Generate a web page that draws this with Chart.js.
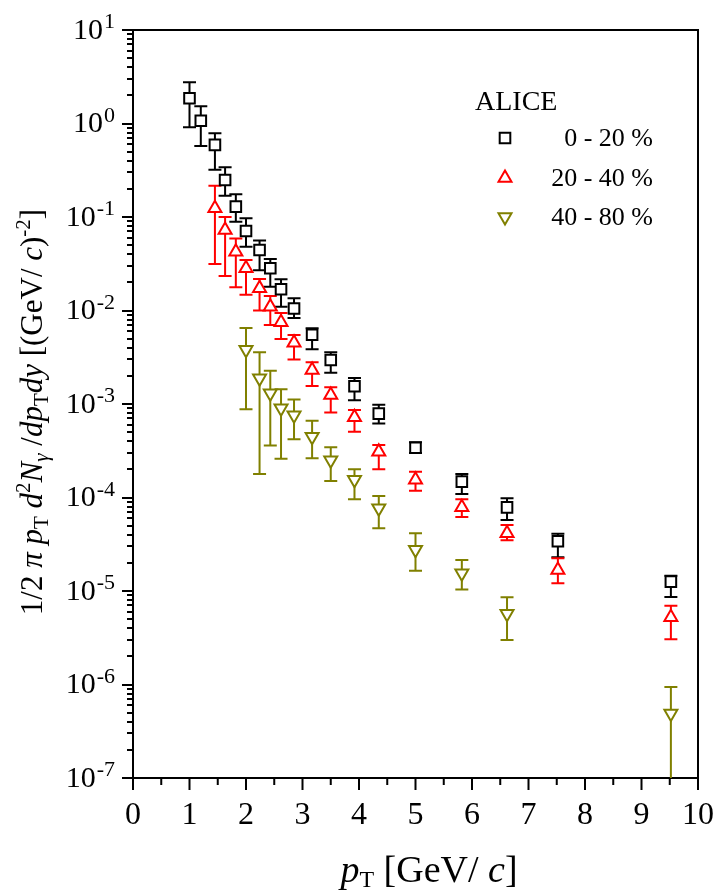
<!DOCTYPE html>
<html>
<head>
<meta charset="utf-8">
<script src="https://cdn.jsdelivr.net/npm/chart.js@4.4.1/dist/chart.umd.min.js"></script>
<style>
html,body{margin:0;padding:0;background:#fff;}
#wrap{width:713px;height:896px;position:relative;}
</style>
</head>
<body>
<div id="wrap"><canvas id="c" width="713" height="896"></canvas></div>
<script>
// ---- data ----
const seriesNames = ['0 - 20 %', '20 - 40 %', '40 - 80 %'];
const legendTitle = 'ALICE';

const pt0to20 = [1.0, 1.2, 1.45, 1.63, 1.82, 2.0, 2.24, 2.43, 2.62, 2.85, 3.17, 3.5, 3.92, 4.35, 5.0, 5.82, 6.62, 7.52, 9.52];
const yield0to20 = [1.86, 1.07, 0.59, 0.249, 0.129, 0.0708, 0.0444, 0.0283, 0.0169, 0.0105, 0.0055, 0.00295, 0.00155, 0.00079, 0.00034, 0.000148, 7.85e-5, 3.4e-5, 1.26e-5];
const errHigh0to20 = [2.76, 1.53, 0.785, 0.34, 0.175, 0.097, 0.056, 0.0355, 0.0216, 0.0135, 0.00646, 0.00357, 0.0019, 0.00098, 0.00039, 1.78e-4, 9.8e-5, 4.1e-5, 1.46e-5];
const errLow0to20 = [0.91, 0.575, 0.32, 0.169, 0.089, 0.048, 0.027, 0.018, 0.011, 0.0083, 0.00385, 0.00216, 0.0011, 0.00062, 0.0003, 1.09e-4, 5.75e-5, 2.29e-5, 8.6e-6];

const pt20to40 = [1.45, 1.63, 1.82, 2.0, 2.24, 2.43, 2.62, 2.85, 3.17, 3.5, 3.92, 4.35, 5.0, 5.82, 6.62, 7.52, 9.52];
const yield20to40 = [0.124, 0.0726, 0.0426, 0.0283, 0.0173, 0.011, 0.0075, 0.00453, 0.00231, 0.00125, 0.00072, 0.000309, 0.000155, 7.85e-5, 4.14e-5, 1.68e-5, 5.25e-6];
const errHigh20to40 = [0.216, 0.1, 0.059, 0.0347, 0.0217, 0.0143, 0.0094, 0.00547, 0.00279, 0.00151, 0.00086, 0.000364, 0.000189, 9.55e-5, 5.08e-5, 2.24e-5, 6.97e-6];
const errLow20to40 = [0.0314, 0.0234, 0.0177, 0.0147, 0.01, 0.007, 0.00495, 0.003, 0.00156, 0.00081, 0.000506, 0.0002, 0.000118, 6.17e-5, 3.5e-5, 1.21e-5, 3.04e-6];

const pt40to80 = [2.0, 2.24, 2.43, 2.62, 2.85, 3.17, 3.5, 3.92, 4.35, 5.0, 5.82, 6.62, 9.52];
const yield40to80 = [0.0038, 0.00188, 0.0013, 0.0009, 0.00076, 0.000447, 0.00025, 0.000155, 7.66e-5, 2.76e-5, 1.55e-5, 5.7e-6, 4.9e-7];
const errHigh40to80 = [0.0065, 0.00357, 0.00227, 0.00144, 0.00112, 0.000662, 0.000344, 0.0002, 0.000104, 4.14e-5, 2.15e-5, 8.57e-6, 9.4e-7];
const errLow40to80 = [0.00088, 1.78e-4, 3.6e-4, 2.6e-4, 4.2e-4, 2.63e-4, 0.00015, 9.55e-5, 4.69e-5, 1.65e-5, 1.04e-5, 2.99e-6, 1e-8];

const xTickLabels = ['0','1','2','3','4','5','6','7','8','9','10'];
const yTickExponents = [1, 0, -1, -2, -3, -4, -5, -6, -7];

// ---- styling ----
const SERIF = '"Liberation Serif", "Times New Roman", serif';
const seriesColors = ['#000000', '#ff0000', '#808000'];
const seriesStyles = [
  {pointStyle: 'rect', radius: 7.5, rotation: 0},
  {pointStyle: 'triangle', radius: 7.5, rotation: 0},
  {pointStyle: 'triangle', radius: 7.5, rotation: 180}
];

const allPt = [pt0to20, pt20to40, pt40to80];
const allY = [yield0to20, yield20to40, yield40to80];
const allHi = [errHigh0to20, errHigh20to40, errHigh40to80];
const allLo = [errLow0to20, errLow20to40, errLow40to80];

const datasets = seriesNames.map((name, i) => ({
  label: name,
  data: allPt[i].map((x, j) => ({x: x, y: allY[i][j]})),
  errHigh: allHi[i],
  errLow: allLo[i],
  borderColor: seriesColors[i],
  backgroundColor: '#ffffff',
  pointStyle: seriesStyles[i].pointStyle,
  pointRadius: seriesStyles[i].radius,
  pointHoverRadius: seriesStyles[i].radius,
  pointRotation: seriesStyles[i].rotation,
  pointBorderWidth: 2,
  showLine: false
}));

// y tick values: 1..9 x 10^n for each decade in range
const yTickValues = [];
const minExp = Math.min(...yTickExponents), maxExp = Math.max(...yTickExponents);
for (let e = minExp; e <= maxExp; e++) {
  for (let m = 1; m <= 9; m++) {
    if (e === maxExp && m > 1) break;
    yTickValues.push(m * Math.pow(10, e));
  }
}
const supMap = {'-':'\u207B','0':'\u2070','1':'\u00B9','2':'\u00B2','3':'\u00B3','4':'\u2074','5':'\u2075','6':'\u2076','7':'\u2077','8':'\u2078','9':'\u2079'};

function isDecade(v) {
  const e = Math.log10(v);
  return Math.abs(e - Math.round(e)) < 1e-9;
}

const errorBarPlugin = {
  id: 'errorBars',
  beforeDatasetsDraw(chart) {
    const {ctx, chartArea, scales} = chart;
    const ys = scales.y;
    ctx.save();
    ctx.beginPath();
    ctx.rect(chartArea.left, chartArea.top, chartArea.right - chartArea.left, chartArea.bottom - chartArea.top);
    ctx.clip();
    chart.data.datasets.forEach((ds, i) => {
      const meta = chart.getDatasetMeta(i);
      ctx.strokeStyle = ds.borderColor;
      ctx.lineWidth = 2;
      ds.errLow.forEach((lo, j) => {
        const px = meta.data[j].x;
        const yTop = ys.getPixelForValue(ds.errHigh[j]);
        const yBot = ys.getPixelForValue(lo);
        const cap = 6.5;
        ctx.beginPath();
        ctx.moveTo(px, yTop); ctx.lineTo(px, yBot);
        ctx.moveTo(px - cap, yTop); ctx.lineTo(px + cap, yTop);
        ctx.moveTo(px - cap, yBot); ctx.lineTo(px + cap, yBot);
        ctx.stroke();
      });
    });
    ctx.restore();
  }
};

function richWidth(ctx, segs) {
  let w = 0;
  segs.forEach(s => { ctx.font = s.f; w += ctx.measureText(s.t).width; });
  return w;
}
function drawRich(ctx, segs, x0, base) {
  let x = x0;
  segs.forEach(s => {
    ctx.font = s.f;
    ctx.fillText(s.t, x, base + (s.dy || 0));
    x += ctx.measureText(s.t).width;
  });
}

const decorPlugin = {
  id: 'decor',
  afterDraw(chart) {
    const {ctx, chartArea: a, scales} = chart;
    const xs = scales.x, ys = scales.y;
    ctx.save();
    ctx.strokeStyle = '#000';
    ctx.fillStyle = '#000';
    ctx.lineWidth = 2;
    // frame top & right
    ctx.beginPath();
    ctx.moveTo(a.left, a.top); ctx.lineTo(a.right, a.top); ctx.lineTo(a.right, a.bottom);
    ctx.stroke();
    // x ticks
    ctx.beginPath();
    xs.ticks.forEach(t => {
      const px = xs.getPixelForValue(t.value);
      ctx.moveTo(px, a.bottom); ctx.lineTo(px, a.bottom + 12);
      if (t.value < xs.max) {
        const pm = xs.getPixelForValue(t.value + 0.5);
        ctx.moveTo(pm, a.bottom); ctx.lineTo(pm, a.bottom + 7);
      }
    });
    ctx.stroke();
    // y ticks
    ctx.beginPath();
    yTickValues.forEach(v => {
      const py = Math.round(ys.getPixelForValue(v));
      const len = isDecade(v) ? 11 : 6;
      ctx.moveTo(a.left, py); ctx.lineTo(a.left - len, py);
    });
    ctx.stroke();
    // y tick labels: 10 with superscript exponent
    ctx.textAlign = 'left';
    yTickExponents.forEach(e => {
      const py = ys.getPixelForValue(Math.pow(10, e));
      const sup = String(e);
      ctx.font = '22px ' + SERIF;
      const ws = ctx.measureText(sup).width;
      ctx.font = '30px ' + SERIF;
      const wb = ctx.measureText('10').width;
      const right = a.left - 18;
      ctx.textBaseline = 'middle';
      ctx.fillText('10', right - ws - wb - 1, py + 1);
      ctx.font = '22px ' + SERIF;
      ctx.textBaseline = 'alphabetic';
      ctx.fillText(sup, right - ws, py - 2);
    });
    // y axis title (rotated)
    const fm = '31px ' + SERIF, fi = 'italic 31px ' + SERIF, fs = '21px ' + SERIF, fsi = 'italic 21px ' + SERIF;
    const ySegs = [
      {t: '1/2 ', f: fm}, {t: '\u03C0', f: fi}, {t: ' ', f: fm}, {t: 'p', f: fi}, {t: 'T', f: fs, dy: 6},
      {t: ' ', f: fm}, {t: 'd', f: fi}, {t: '2', f: fs, dy: -12}, {t: 'N', f: fi}, {t: '\u03B3', f: fsi, dy: 6},
      {t: ' /', f: fm}, {t: 'dp', f: fi}, {t: 'T', f: fs, dy: 6}, {t: 'dy', f: fi},
      {t: ' [(GeV/ ', f: fm}, {t: 'c', f: fi}, {t: ')', f: fm}, {t: '-2', f: fs, dy: -12}, {t: ']', f: fm}
    ];
    ctx.textBaseline = 'alphabetic';
    ctx.save();
    ctx.translate(42, 412);
    ctx.rotate(-Math.PI / 2);
    const wy = richWidth(ctx, ySegs);
    drawRich(ctx, ySegs, -wy / 2, 0);
    ctx.restore();
    // x axis title
    const xSegs = [
      {t: 'p', f: 'italic 38px ' + SERIF}, {t: 'T', f: '24px ' + SERIF, dy: 5},
      {t: ' [GeV/ ', f: '38px ' + SERIF}, {t: 'c', f: 'italic 38px ' + SERIF}, {t: ']', f: '38px ' + SERIF}
    ];
    const wx = richWidth(ctx, xSegs);
    drawRich(ctx, xSegs, 429 - wx / 2, 882);
    // legend
    ctx.font = '28px ' + SERIF;
    ctx.textAlign = 'left';
    ctx.fillText(legendTitle, 475, 110);
    const legY = [138, 178, 217];
    seriesNames.forEach((name, i) => {
      ctx.save();
      ctx.strokeStyle = seriesColors[i];
      ctx.fillStyle = '#fff';
      ctx.lineWidth = 2;
      Chart.helpers.drawPoint(ctx, {pointStyle: seriesStyles[i].pointStyle, radius: seriesStyles[i].radius, rotation: seriesStyles[i].rotation, borderWidth: 2}, 505, legY[i]);
      ctx.restore();
      ctx.fillStyle = '#000';
      ctx.font = '26px ' + SERIF;
      ctx.textAlign = 'right';
      ctx.textBaseline = 'middle';
      ctx.fillText(name, 653, legY[i] + 1);
    });
    ctx.restore();
  }
};

new Chart(document.getElementById('c'), {
  type: 'scatter',
  data: {datasets: datasets},
  options: {
    responsive: false,
    devicePixelRatio: 1,
    animation: false,
    layout: {padding: {left: 0, right: 15, top: 30, bottom: 0}},
    plugins: {legend: {display: false}, tooltip: {enabled: false}, title: {display: false}},
    scales: {
      x: {
        type: 'linear',
        min: 0, max: 10,
        grid: {display: false, drawTicks: false},
        border: {display: true, color: '#000', width: 2},
        ticks: {
          stepSize: 1,
          padding: 18,
          color: '#000',
          font: {family: SERIF, size: 32},
          callback: (v) => xTickLabels[Math.round(v)] !== undefined && Math.abs(v - Math.round(v)) < 1e-9 ? xTickLabels[Math.round(v)] : ''
        },
        afterFit: (s) => { s.height = 118; s.paddingLeft = 0; s.paddingRight = 0; }
      },
      y: {
        type: 'logarithmic',
        min: Math.pow(10, minExp), max: Math.pow(10, maxExp),
        grid: {display: false, drawTicks: false},
        border: {display: true, color: '#000', width: 2},
        ticks: {
          display: false,
          autoSkip: false,
          callback: (v) => isDecade(v) ? '10' + String(Math.round(Math.log10(v))).split('').map(c => supMap[c]).join('') : ''
        },
        afterBuildTicks: (s) => { s.ticks = yTickValues.map(v => ({value: v, major: isDecade(v)})); },
        afterFit: (s) => { s.width = 133; s.paddingTop = 0; s.paddingBottom = 0; }
      }
    }
  },
  plugins: [errorBarPlugin, decorPlugin]
});
</script>
</body>
</html>
